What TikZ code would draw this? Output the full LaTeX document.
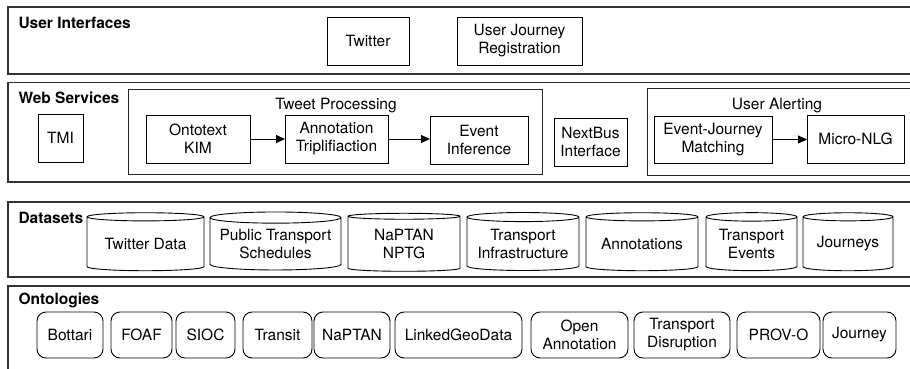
\documentclass[tikz,border=0pt]{standalone}
\usepackage{fontspec}
\setmainfont{TeX Gyre Heros}
\usetikzlibrary{positioning, shapes.geometric, arrows.meta}

\tikzset{
  panel/.style={draw=black!80, line width=1.3pt},
  group/.style={draw=black!85, line width=1pt},
  svcbox/.style={draw, line width=0.9pt, inner sep=0pt, outer sep=0pt, align=center},
  dbcyl/.style={draw, line width=0.9pt, cylinder, shape border rotate=90, aspect=0.1,
    inner sep=0pt, outer sep=0pt, align=center},
  ontobox/.style={draw, line width=0.9pt, rounded corners=9pt, inner sep=0pt, outer sep=0pt, align=center},
  layerlabel/.style={anchor=base west, font=\fontsize{15.5}{18}\selectfont\bfseries},
  grouplabel/.style={anchor=base},
  flow/.style={-{Triangle[length=9pt,width=8pt]}, line width=0.9pt}
}

\begin{document}
\begin{tikzpicture}[x=1pt, y=-1pt, font=\fontsize{15.5}{18}\selectfont]
\useasboundingbox (0,0) rectangle (910,369);
\clip (0,0) rectangle (910,369);

% layers
\draw[panel] (8,7) rectangle (930,74);
\draw[panel] (8,82.5) rectangle (930,182);
\draw[panel] (8,202) rectangle (930,277);
\draw[panel] (8,286) rectangle (930,400);
\node[layerlabel] (lui) at (15,29) {User Interfaces};
\node[layerlabel] (lws) at (15,103) {Web Services};
\node[layerlabel] (lds) at (15,223) {Datasets};
\node[layerlabel] (lon) at (15,304) {Ontologies};

% user interfaces
\node[svcbox, minimum width=82, minimum height=48] (twitter) at (368,41) {Twitter};
\node[svcbox, minimum width=125, minimum height=48] (ujr) at (519.5,41) {User Journey\\Registration};

% web services
\draw[group] (128,89) rectangle (542,174);
\node[grouplabel] (ltp) at (336,109) {Tweet Processing};
\draw[group] (647,88) rectangle (930,175);
\node[grouplabel] (lua) at (777,109) {User Alerting};
\node[svcbox, minimum width=45, minimum height=48] (tmi) at (60.5,138) {TMI};
\node[svcbox, minimum width=104, minimum height=48] (kim) at (198,139) {Ontotext\\KIM};
\node[svcbox, minimum width=103, minimum height=48] (annot) at (336.5,139) {Annotation\\Triplifiaction};
\node[svcbox, minimum width=98, minimum height=48] (event) at (479,140) {Event\\Inference};
\node[svcbox, minimum width=73, minimum height=48] (nextbus) at (590.5,142) {NextBus\\Interface};
\node[svcbox, minimum width=118, minimum height=47] (ejm) at (713,139.5) {Event-Journey\\Matching};
\node[svcbox, minimum width=97, minimum height=48] (nlg) at (855.5,139) {Micro-NLG};
\draw[flow] (kim.east) -- (annot.west |- kim.east);
\draw[flow] (annot.east) -- (event.west |- annot.east);
\draw[flow] (ejm.east) -- (nlg.west |- ejm.east);

% datasets
\node[dbcyl, minimum width=117, minimum height=58] (twdata) at (145.5,244) {Twitter Data};
\node[dbcyl, minimum width=131, minimum height=58] (pts) at (275.5,244) {Public Transport\\Schedules};
\node[dbcyl, minimum width=112, minimum height=58] (naptan) at (404,244) {NaPTAN\\NPTG};
\node[dbcyl, minimum width=112, minimum height=58] (infra) at (523,244) {Transport\\Infrastructure};
\node[dbcyl, minimum width=112, minimum height=58] (annots) at (642,244) {Annotations};
\node[dbcyl, minimum width=91, minimum height=58, aspect=0.13] (tevents) at (751.5,244) {Transport\\Events};
\node[dbcyl, minimum width=90, minimum height=58, aspect=0.13] (journeys) at (848,244) {Journeys};

% ontologies
\node[ontobox, minimum width=66, minimum height=46] (bottari) at (70,335) {Bottari};
\node[ontobox, minimum width=61, minimum height=46] (foaf) at (141.5,335) {FOAF};
\node[ontobox, minimum width=59, minimum height=46] (sioc) at (205.5,335) {SIOC};
\node[ontobox, minimum width=69, minimum height=46] (transit) at (277.5,335) {Transit};
\node[ontobox, minimum width=76, minimum height=46] (naptanont) at (352,335) {NaPTAN};
\node[ontobox, minimum width=127, minimum height=46] (lgd) at (458.5,335) {LinkedGeoData};
\node[ontobox, minimum width=97, minimum height=46] (oa) at (579.5,335) {Open\\Annotation};
\node[ontobox, minimum width=96, minimum height=46] (tdis) at (682,335) {Transport\\Disruption};
\node[ontobox, minimum width=83, minimum height=46] (provo) at (778.5,335) {PROV-O};
\node[ontobox, minimum width=73, minimum height=46] (journey) at (859.5,335) {Journey};

\end{tikzpicture}
\end{document}
